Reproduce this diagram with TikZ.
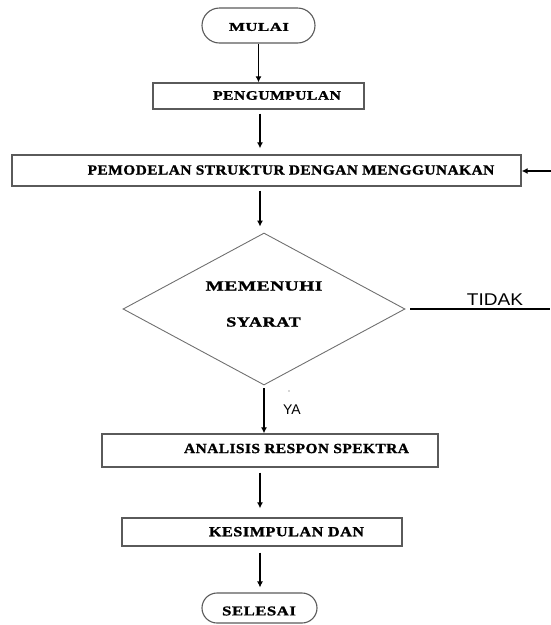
\documentclass[tikz,border=0pt]{standalone}
\usepackage{fontspec}
\usepackage{graphicx}
\setmainfont{Liberation Serif}
\newfontfamily\sansfnt{Liberation Sans}
\usetikzlibrary{arrows.meta,shapes.geometric,shapes.misc}
\definecolor{boxgray}{HTML}{5A5A5A}
\definecolor{diagray}{HTML}{707070}
\newcommand\bt[3]{\scalebox{#2}[1]{\fontsize{#1}{#1}\selectfont\bfseries\addfontfeatures{LetterSpace=3,FakeBold=1.2}#3}}
\tikzset{
  boxst/.style={draw=boxgray, line width=1.3pt, rectangle, inner sep=0pt},
  termst/.style={draw=boxgray, line width=1.1pt, rounded rectangle, inner sep=0pt},
  diast/.style={draw=diagray, line width=0.9pt, diamond, inner sep=0pt},
  txt/.style={inner sep=0pt, anchor=center},
  arr/.style={draw=black, line width=1.2pt, -{Latex[length=6pt,width=6pt]}},
  plain/.style={draw=black, line width=1.1pt}
}
\begin{document}
\begin{tikzpicture}[x=1pt,y=-1pt]
\useasboundingbox (0,0) rectangle (551,625);
% shapes
\node[termst, minimum width=113pt, minimum height=35pt] (mulai) at (258.5,25.5) {};
\node[boxst, minimum width=211pt, minimum height=26pt] (peng) at (258.5,96) {};
\node[boxst, minimum width=509pt, minimum height=31pt] (pemo) at (266.5,170.5) {};
\node[diast, minimum width=282pt, minimum height=152pt] (dia) at (264,309) {};
\node[boxst, minimum width=336pt, minimum height=33pt] (ana) at (270,450.5) {};
\node[boxst, minimum width=280pt, minimum height=28pt] (kes) at (262,532) {};
\node[termst, minimum width=115pt, minimum height=30pt] (sel) at (259.5,608) {};
% texts
\node[txt] (tmulai) at (259,27) {\bt{12}{1.4}{MULAI}};
\node[txt] (tpeng) at (277,95.5) {\bt{13}{1.2}{PENGUMPULAN}};
\node[txt] (tpemo) at (291,170) {\bt{14}{1.1}{PEMODELAN STRUKTUR DENGAN MENGGUNAKAN}};
\node[txt] (tmem) at (264,286) {\bt{14}{1.38}{MEMENUHI}};
\node[txt] (tsya) at (263.5,322) {\bt{14}{1.3}{SYARAT}};
\node[txt] (tana) at (296.5,448.5) {\bt{14}{1.1}{ANALISIS RESPON SPEKTRA}};
\node[txt] (tkes) at (286.5,531.7) {\bt{14}{1.16}{KESIMPULAN DAN}};
\node[txt] (tsel) at (259,611) {\bt{13.5}{1.24}{SELESAI}};
\node[txt] (ttidak) at (495,300) {\scalebox{1.12}[1]{\sansfnt\fontsize{17}{17}\selectfont TIDAK}};
\node[txt] (tya) at (292,410) {\sansfnt\fontsize{14}{14}\selectfont YA};
\fill[black!70] (289,391) circle (0.7pt);
% helper coordinates
\coordinate (x260) at (260,0);
\coordinate (rin) at (551,171);
\coordinate (tend) at (550,309);
% connectors
\draw[arr] (mulai.south) -- (peng.north -| mulai.south);
\draw[arr, shorten <=4pt, shorten >=6pt] (peng.south -| x260) -- (pemo.north -| x260);
\draw[arr, shorten <=4pt, shorten >=6pt] (pemo.south -| x260) -- (dia.north -| x260);
\draw[arr, shorten <=3pt] (dia.south) -- (ana.north -| dia.south);
\draw[arr, shorten <=5pt, shorten >=9pt] (ana.south -| x260) -- (kes.north -| x260);
\draw[arr, shorten <=6pt, shorten >=5pt] (kes.south -| x260) -- (sel.north -| x260);
\draw[arr] (rin) -- (rin -| pemo.east);
\draw[plain, shorten <=5pt] (dia.east) -- (tend);
\end{tikzpicture}
\end{document}
